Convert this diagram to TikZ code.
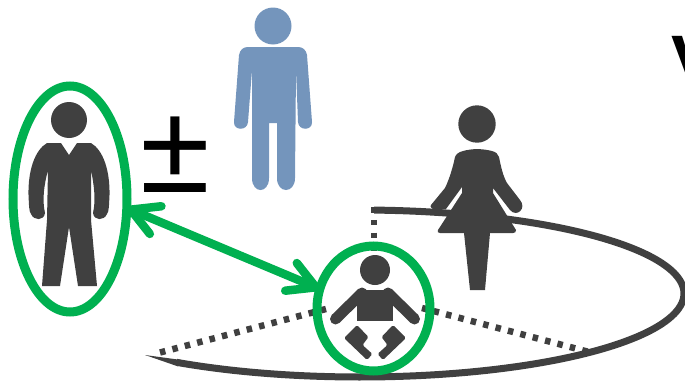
\documentclass[tikz,border=0pt]{standalone}
\usepackage{xcolor}
\usepackage{fontspec}
\setmainfont{Liberation Sans}
\usetikzlibrary{shapes.geometric,arrows.meta}
\definecolor{darkfig}{HTML}{404040}
\definecolor{bluefig}{HTML}{7495BC}
\definecolor{ringgreen}{HTML}{00B050}
\tikzset{
  ring/.style={draw=ringgreen, ellipse, line width=9pt, inner sep=0pt, outer sep=0pt},
  fig/.style={fill=darkfig, draw=none},
  bluebody/.style={fill=bluefig, draw=none},
  dotline/.style={draw=darkfig, line width=6.5pt, dash pattern=on 5.5pt off 7.3pt}
}
\begin{document}
\begin{tikzpicture}[x=1pt,y=-1pt]
\useasboundingbox (0,0) rectangle (685,380);
\path[clip] (0,0) rectangle (685,380);

\node[font=\bfseries\fontsize{70}{70}\selectfont, anchor=north west, inner sep=0pt] (vee) at (671,36) {V};
\node[font=\fontsize{127}{127}\selectfont, inner sep=0pt] (plusminus) at (175,155) {±};

\fill[bluebody] (273,26) circle (18.5);
\fill[bluebody] (248,47) -- (298,47) .. controls (303,47) and (306,50) .. (307,55) -- (312,122)
  .. controls (312.5,131) and (298.5,131) .. (298,122) -- (296,70) -- (295,178)
  .. controls (295,194) and (277,194) .. (277,178) -- (277,123) -- (269,123) -- (269,178)
  .. controls (269,194) and (252,194) .. (252,178) -- (252,70) -- (248,122)
  .. controls (247.5,131) and (233.5,131) .. (234,122) -- (239,55)
  .. controls (240,50) and (243,47) .. (248,47) -- cycle;

\fill[fig] (69,120) circle (18);
\fill[fig] (47,143) -- (61,143) -- (69,155) -- (77,143) -- (91,143)
  .. controls (103,150) and (110,170) .. (109.5,195)
  .. controls (109,205) and (109,212) .. (107,214)
  .. controls (104,221) and (94,221) .. (93,213)
  .. controls (96,200) and (94,185) .. (91,170)
  -- (91,220) -- (97,286) -- (78,286) -- (69,227) -- (60,286) -- (42,286) -- (47,220) -- (48,170)
  .. controls (44,185) and (42,200) .. (45,213)
  .. controls (44,221) and (34,221) .. (31,214)
  .. controls (29,212) and (29,205) .. (28.5,195)
  .. controls (28,170) and (35,150) .. (47,143) -- cycle;

\draw[darkfig, line width=7pt, smooth, domain=87.5:-124.5, samples=120] plot ({360+324*cos(\x)},{293.5-83.5*sin(\x)});
\fill[fig] (145,355) -- (180,359.8) -- (178,366.4) -- cycle;
\coordinate (apex) at (374,207);
\coordinate (babytop) at (374,252);
\coordinate (leftend) at (160,352.5);
\coordinate (leftin) at (326,309);
\coordinate (rightend) at (587.5,351.6);
\coordinate (rightin) at (422,308);
\draw[dotline] (apex) -- (babytop);
\draw[dotline] (leftend) -- (leftin);
\draw[dotline] (rightend) -- (rightin);

\fill[fig] (477,124) circle (18.7);
\fill[fig] (463,151) .. controls (472,148.5) and (482,148.5) .. (492,151)
  .. controls (496,152) and (498,154) .. (499,157)
  .. controls (501,167) and (503,176) .. (507,183) -- (520,200)
  .. controls (527,208) and (517,218) .. (510,210) -- (493,188) -- (493,193) -- (516,230)
  .. controls (516,232) and (515,233) .. (513,233) -- (490,233) -- (485,290) -- (470,290) -- (464,233) -- (440,233)
  .. controls (438,233) and (437,232) .. (438,230) -- (462,193) -- (462,187) -- (446,209) -- (437,210)
  .. controls (433,210) and (429,207) .. (431,205) -- (445,188)
  .. controls (449,180) and (453,167) .. (455,157)
  .. controls (456,154) and (459,152) .. (463,151) -- cycle;

\fill[fig] (375,270) circle (15);
\fill[fig] (357,290) rectangle (393,321);
\draw[darkfig, line width=11pt, line cap=round] (362,293) -- (335.5,319);
\draw[darkfig, line width=11pt, line cap=round] (388,293) -- (414.5,319);
\fill[fig, rounded corners=1.5pt] (357,325) -- (368.5,337) -- (362.5,345) -- (372.5,354) -- (367,360) -- (344,338) -- cycle;
\fill[fig, rounded corners=1.5pt] (393,325) -- (381.5,337) -- (387.5,345) -- (377.5,354) -- (383,360) -- (406,338) -- cycle;

\node[ring, minimum width=114pt, minimum height=226pt] (manring) at (70,199) {};
\node[ring, minimum width=113pt, minimum height=125pt] (babyring) at (373.5,308.5) {};

\draw[{Straight Barb[length=27pt,width=30pt,round]}-{Straight Barb[length=27pt,width=30pt,round]}, draw=ringgreen, line width=8.5pt] (manring.-9) -- (babyring.160);
\end{tikzpicture}
\end{document}
